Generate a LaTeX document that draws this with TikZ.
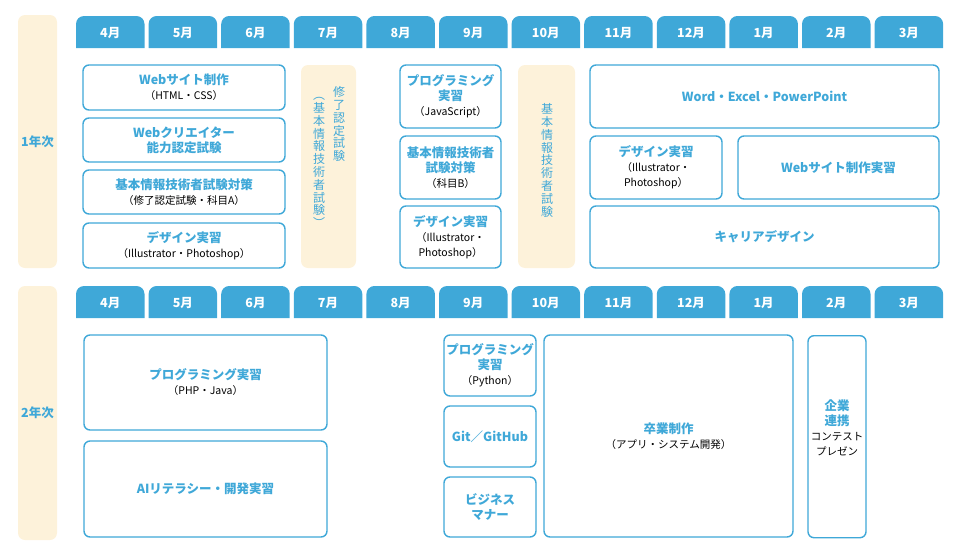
\documentclass[tikz,border=0pt]{standalone}
\usepackage{fontspec}
\setmainfont{Noto Sans CJK JP}
\usetikzlibrary{positioning}
\definecolor{tcblue}{HTML}{3FA8D8}
\definecolor{tccream}{HTML}{FDF2DA}
\tikzset{
  blk/.style={draw=tcblue, line width=1.4pt, rounded corners=6pt, fill=white,
    text=tcblue, font=\bfseries\fontsize{12.5}{15}\selectfont, align=center, inner sep=0pt},
  cream/.style={fill=tccream, rounded corners=7pt, text=tcblue,
    font=\fontsize{12}{12.8}\selectfont, align=center, inner sep=0pt},
  tab/.style={fill=tcblue},
  tabtxt/.style={text=white, font=\bfseries\fontsize{12.5}{14}\selectfont}
}
\newcommand\sub[1]{{\color{black}\mdseries\fontsize{10.5}{14}\selectfont #1}}
\newcommand\boxat[6]{\node[blk, minimum width=(#4-#2)*1pt, minimum height=(#5-#3)*1pt]
  (#1) at ({(#2+#4)/2},{(#3+#5)/2}) {#6};}
\newcommand\creamat[6]{\node[cream, minimum width=(#4-#2)*1pt, minimum height=(#5-#3)*1pt]
  (#1) at ({(#2+#4)/2},{(#3+#5)/2}) {#6};}
\begin{document}
\begin{tikzpicture}[x=1pt,y=-1pt]
\useasboundingbox (0,0) rectangle (961,554);
% year columns
\creamat{yr1}{18}{15}{57}{268}{}
\creamat{yr2}{18}{286}{57}{540}{}
\node[text=tcblue, font=\bfseries\fontsize{12.5}{14}\selectfont] (yl1) at (yr1) {1年次};
\node[text=tcblue, font=\bfseries\fontsize{12.5}{14}\selectfont] (yl2) at (yr2) {2年次};
% month tabs
\foreach \m [count=\i from 0] in {4,5,6,7,8,9,10,11,12,1,2,3} {
  \pgfmathsetmacro\xa{76+72.6*\i}
  \pgfmathsetmacro\xb{\xa+68.5}
  \foreach \y/\r in {16/a,286/b} {
    \fill[tab, rounded corners=8pt] (\xa,\y+32) -- (\xa,\y) -- (\xb,\y) [sharp corners] -- (\xb,\y+32) -- cycle;
    \node[tabtxt] (m\r\i) at ({(\xa+\xb)/2},\y+17) {\m 月};
  }
}
% year 1
\boxat{web}{83}{65}{285}{110}{Webサイト制作\\\sub{（HTML・CSS）}}
\boxat{wcr}{83}{118}{285}{162}{Webクリエイター\\能力認定試験}
\boxat{kja}{83}{170}{285}{214}{基本情報技術者試験対策\\\sub{（修了認定試験・科目A）}}
\boxat{dsa}{83}{223}{285}{268}{デザイン実習\\\sub{（Illustrator・Photoshop）}}
\creamat{shu}{301}{65}{356}{268}{}
\node[text=tcblue, font=\fontsize{12}{12.8}\selectfont, align=center, anchor=north]
  (shu1) at (339,83) {修\\了\\認\\定\\試\\験};
\node[text=tcblue, font=\fontsize{12}{12.8}\selectfont, align=center, anchor=north]
  (shu2) at (319,94) {︵\\基\\本\\情\\報\\技\\術\\者\\試\\験\\︶};
\boxat{pja}{400}{65}{501}{128}{プログラミング\\実習\\\sub{（JavaScript）}}
\boxat{kjb}{400}{136}{501}{199}{基本情報技術者\\試験対策\\\sub{（科目B）}}
\boxat{dsb}{400}{206}{501}{268}{デザイン実習\\\sub{（Illustrator・}\\\sub{Photoshop）}}
\creamat{kjs}{518}{65}{575}{268}{}
\node[text=tcblue, font=\fontsize{12}{12.8}\selectfont, align=center, anchor=north]
  (kjs1) at (547,100) {基\\本\\情\\報\\技\\術\\者\\試\\験};
\boxat{off}{590}{65}{939}{128}{Word・Excel・PowerPoint}
\boxat{dsc}{590}{136}{722}{199}{デザイン実習\\\sub{（Illustrator・}\\\sub{Photoshop）}}
\boxat{wsj}{738}{136}{939}{199}{Webサイト制作実習}
\boxat{car}{590}{206}{939}{268}{キャリアデザイン}
% year 2
\boxat{php}{84}{335}{327}{430}{プログラミング実習\\\sub{（PHP・Java）}}
\boxat{ail}{84}{441}{327}{537}{AIリテラシー・開発実習}
\boxat{pyt}{444}{335}{536}{396}{プログラミング\\実習\\\sub{（Python）}}
\boxat{git}{444}{406}{536}{467}{Git／GitHub}
\boxat{bus}{444}{477}{536}{537}{ビジネス\\マナー}
\boxat{sot}{544}{335}{793}{537}{卒業制作\\\sub{（アプリ・システム開発）}}
\node[blk, minimum width=58pt, minimum height=202pt, anchor=north] (kig) at (837,335) {};
\node[text=tcblue, font=\bfseries\fontsize{12.5}{15}\selectfont, align=center, anchor=north]
  (kigt) at (837,396) {企業\\連携\\\sub{コンテスト}\\\sub{プレゼン}};
\end{tikzpicture}
\end{document}
